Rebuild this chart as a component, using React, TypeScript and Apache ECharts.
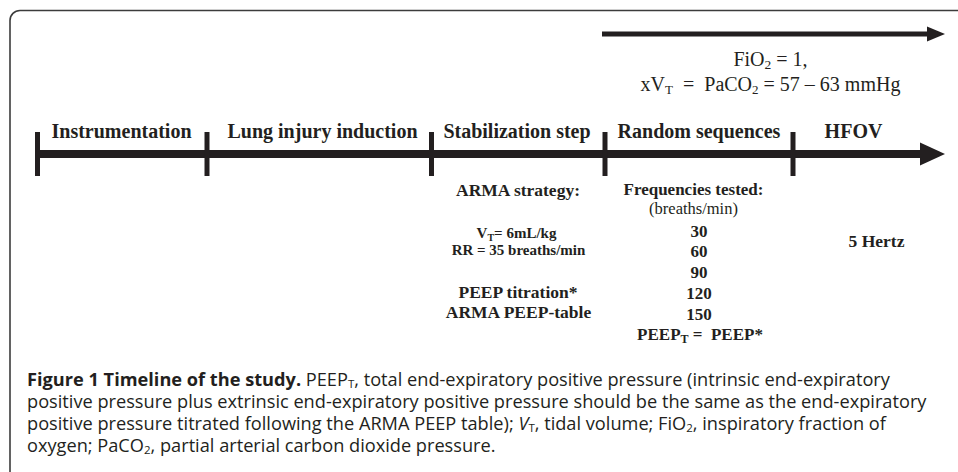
import React, { useEffect, useRef } from "react";
import * as echarts from "echarts";

// ---- content ----
const phases = ["Instrumentation", "Lung injury induction", "Stabilization step", "Random sequences", "HFOV"];
const frequenciesTested = ["30", "60", "90", "120", "150"];
const topCondition1: [string, string][] = [["FiO", "n"], ["2", "s"], ["\u00A0= 1,", "n"]];
const topCondition2: [string, string][] = [["xV", "n"], ["T", "s"], ["\u00A0 = \u00A0PaCO", "n"], ["2", "s"], ["\u00A0= 57 \u2013 63 mmHg", "n"]];
const armaTitle = "ARMA strategy:";
const armaSettings: [string, string][][] = [
  [["V", "n"], ["T", "s"], ["= 6mL/kg", "n"]],
  [["RR = 35 breaths/min", "n"]],
];
const armaPeep = ["PEEP titration*", "ARMA PEEP-table"];
const freqTitle = "Frequencies tested:";
const freqUnit = "(breaths/min)";
const peepEquality: [string, string][] = [["PEEP", "n"], ["T", "s"], ["\u00A0=\u00A0 PEEP*", "n"]];
const hfovSetting = "5 Hertz";
const captionLines: [string, string][][] = [
  [["Figure 1 Timeline of the study.", "b"], ["\u00A0PEEP", "n"], ["T", "s"], [", total end-expiratory positive pressure (intrinsic end-expiratory", "n"]],
  [["positive pressure plus extrinsic end-expiratory positive pressure should be the same as the end-expiratory", "n"]],
  [["positive pressure titrated following the ARMA PEEP table);\u00A0", "n"], ["V", "i"], ["T", "s"], [", tidal volume; FiO", "n"], ["2", "s"], [", inspiratory fraction of", "n"]],
  [["oxygen; PaCO", "n"], ["2", "s"], [", partial arterial carbon dioxide pressure.", "n"]],
];

// ---- layout ----
const INK = "#231f20";
const SERIF = "'Liberation Serif', 'Times New Roman', serif";
const SANS = "'Open Sans', 'Noto Sans', sans-serif";
const tickX = [37.5, 207, 431.5, 605, 793];
const phaseCenterX = [121.5, 322.5, 517, 699, 853.5];

type Part = [string, string];
interface TxtOpt {
  size: number;
  sub?: number;
  drop?: number;
  bold?: boolean;
  family?: string;
  k?: number;
  align?: string;
  color?: string;
}

function txt(x: number, baseline: number, parts: Part[], o: TxtOpt) {
  const size = o.size;
  const sub = o.sub ?? Math.round(size * 0.68);
  const drop = o.drop ?? 3;
  const family = o.family ?? SERIF;
  const k = o.k ?? 0.3375;
  const weight = o.bold ? "bold" : "normal";
  const color = o.color ?? INK;
  const shift = drop + k * (size - sub);
  const p = Math.round(shift * 20) / 10;
  const L = Math.ceil(size * 1.3 + p);
  const base = { fontSize: size, fontFamily: family, fill: color, lineHeight: L };
  const rich: any = {
    n: { ...base, fontWeight: weight },
    b: { ...base, fontWeight: "bold" },
    i: { ...base, fontWeight: weight, fontStyle: "italic" },
    s: { fontSize: sub, fontFamily: family, fontWeight: weight, fill: color, lineHeight: L - p, padding: [p, 0, 0, 0] },
  };
  return {
    type: "text",
    x,
    y: Math.round((baseline - k * size) * 2) / 2,
    silent: true,
    style: {
      text: parts.map(([t, c]) => `{${c}|${t}}`).join(""),
      rich,
      align: o.align ?? "center",
      verticalAlign: "middle",
      fill: color,
      fontFamily: family,
      fontSize: size,
      fontWeight: weight,
    },
  };
}

function buildGraphic() {
  const els: any[] = [];
  // frame
  els.push({
    type: "rect",
    silent: true,
    shape: { x: 10, y: 10.5, width: 1200, height: 800, r: 10 },
    style: { fill: "none", stroke: "#3c3c3c", lineWidth: 1.6 },
  });
  // top arrow
  els.push({ type: "rect", silent: true, shape: { x: 602, y: 31.5, width: 327, height: 5 }, style: { fill: INK } });
  els.push({ type: "polygon", silent: true, shape: { points: [[927, 26.5], [945, 34], [927, 41.5]] }, style: { fill: INK } });
  // main timeline
  els.push({ type: "rect", silent: true, shape: { x: 35, y: 150, width: 887, height: 8 }, style: { fill: INK } });
  els.push({ type: "polygon", silent: true, shape: { points: [[920, 142.5], [945, 154], [920, 165.5]] }, style: { fill: INK } });
  tickX.forEach((cx) => {
    els.push({ type: "rect", silent: true, shape: { x: cx - 2.5, y: 132, width: 5, height: 44 }, style: { fill: INK } });
  });
  // phase labels
  phases.forEach((p, i) => els.push(txt(phaseCenterX[i], 137, [[p, "n"]], { size: 20, bold: true })));
  // top conditions
  els.push(txt(770.5, 65, topCondition1, { size: 20, sub: 13.5, drop: 4 }));
  els.push(txt(770.5, 90.5, topCondition2, { size: 20, sub: 13, drop: 3 }));
  // ARMA column
  els.push(txt(518, 196, [[armaTitle, "n"]], { size: 17.5, bold: true }));
  els.push(txt(516.5, 238, armaSettings[0], { size: 15, sub: 10, drop: 3, bold: true }));
  els.push(txt(518.5, 255, armaSettings[1], { size: 15, bold: true }));
  els.push(txt(518, 298, [[armaPeep[0], "n"]], { size: 17.5, bold: true }));
  els.push(txt(518.5, 318, [[armaPeep[1], "n"]], { size: 17.5, bold: true }));
  // Frequencies column
  els.push(txt(693.5, 195, [[freqTitle, "n"]], { size: 17, bold: true }));
  els.push(txt(693.5, 214, [[freqUnit, "n"]], { size: 16.5 }));
  const freqBase = [236.5, 257.3, 278, 298.8, 319.5];
  frequenciesTested.forEach((f, i) => els.push(txt(699, freqBase[i], [[f, "n"]], { size: 17, bold: true })));
  els.push(txt(700, 340, peepEquality, { size: 17, sub: 12, drop: 3, bold: true }));
  // HFOV
  els.push(txt(876.5, 247, [[hfovSetting, "n"]], { size: 17.5, bold: true }));
  // caption
  captionLines.forEach((line, i) =>
    els.push(txt(27, 386 + 22 * i, line, { size: 18.2, sub: 11.5, drop: 1.5, family: SANS, k: 0.388, align: "left", color: "#231f20" }))
  );
  return els;
}

export default function App() {
  const ref = useRef<HTMLDivElement>(null);
  useEffect(() => {
    if (!ref.current) return;
    const chart = echarts.init(ref.current, undefined, { renderer: "svg" });
    chart.setOption({
      animation: false,
      backgroundColor: "#ffffff",
      graphic: { elements: buildGraphic() },
    });
    return () => chart.dispose();
  }, []);
  return (
    <div
      ref={ref}
      style={{ position: "absolute", left: 0, top: 0, width: 958, height: 472, background: "#fff" }}
    />
  );
}
